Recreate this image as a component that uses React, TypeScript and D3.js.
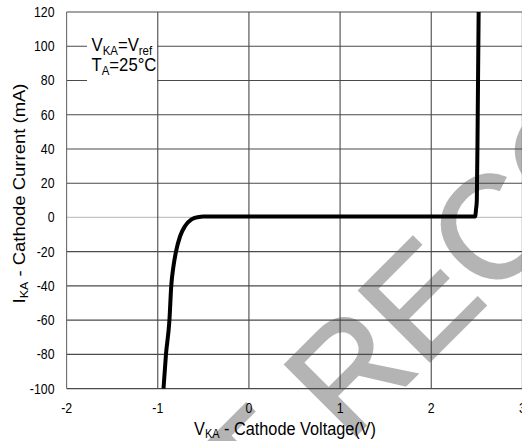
import React from 'react';
import * as d3 from 'd3';

// Curve: cathode voltage (V) vs cathode current (mA)
const vkaValues = [-0.937, -0.91, -0.872, -0.852, -0.826, -0.8, -0.755, -0.7, -0.63, -0.55, -0.5, 2.0, 2.481, 2.492, 2.5, 2.51, 2.52];
const ikaValues = [-100, -80, -60, -40, -28, -20, -11, -5, -1.2, 0.3, 0.5, 0.5, 0.5, 5, 10, 60, 120];

const xTickValues = [-2, -1, 0, 1, 2, 3];
const yTickValues = [-100, -80, -60, -40, -20, 0, 20, 40, 60, 80, 100, 120];

const FONT = "'Liberation Sans', Arial, sans-serif";
const SX = 0.88; // horizontal squeeze of the reference picture's text

export default function App() {
  const W = 522;
  const H = 441;
  const x = d3.scaleLinear().domain([-2, 3]).range([66.6, 522.4]);
  const y = d3.scaleLinear().domain([-100, 120]).range([388.6, 12.0]);

  const pts: [number, number][] = vkaValues.map((v, i) => [v, ikaValues[i]]);
  const line = d3
    .line<[number, number]>()
    .x((d) => x(d[0]))
    .y((d) => y(d[1]))
    .curve(d3.curveMonotoneX);

  const [x0, x1] = x.range();
  const yTop = y(120);
  const yBot = y(-100);

  return (
    <svg
      width={W}
      height={H}
      viewBox={`0 0 ${W} ${H}`}
      style={{ position: 'absolute', left: 0, top: 0, background: '#fff' }}
      fontFamily={FONT}
    >
      <rect x={0} y={0} width={W} height={H} fill="#fff" />

      {/* watermark */}
      <g
        transform="translate(347.4,443.6) rotate(-45)"
        fill="#b4b4b4"
        stroke="#b4b4b4"
        strokeWidth={2.5}
        strokeLinejoin="miter"
        fontSize={145}
        fontFamily={FONT}
      >
        <text x={0} y={0}>RECOMMENDED</text>
        <text x={-40} y={0} textAnchor="end">NOT</text>
      </g>

      {/* horizontal gridlines */}
      {yTickValues.map((t) => (
        <line
          key={'h' + t}
          x1={x0}
          x2={x1}
          y1={y(t)}
          y2={y(t)}
          stroke={t === 0 ? '#c4c4c4' : '#4a4a4a'}
          strokeWidth={t === 0 ? 1.4 : 1.1}
        />
      ))}
      {/* vertical gridlines */}
      {xTickValues.map((t) => (
        <line
          key={'v' + t}
          x1={x(t)}
          x2={x(t)}
          y1={yTop}
          y2={yBot}
          stroke={t === -2 ? '#6a6a6a' : '#4a4a4a'}
          strokeWidth={1.1}
        />
      ))}

      {/* annotation box */}
      <rect x={87} y={25} width={70} height={70} fill="#fff" />
      <g transform={`translate(91.5,50.5) scale(${SX},1)`} fontSize={19} fill="#000">
        <text x={0} y={0}>
          V<tspan fontSize={13} dy={4}>KA</tspan>
          <tspan dy={-4}>=V</tspan>
          <tspan fontSize={13} dy={4}>ref</tspan>
        </text>
      </g>
      <g transform={`translate(91.5,71) scale(${SX},1)`} fontSize={19} fill="#000">
        <text x={0} y={0}>
          T<tspan fontSize={13} dy={4}>A</tspan>
          <tspan dy={-4}>=25°C</tspan>
        </text>
      </g>

      {/* curve */}
      <path d={line(pts) || ''} fill="none" stroke="#000" strokeWidth={4} strokeLinejoin="round" />

      {/* y tick labels */}
      {yTickValues.map((t) => (
        <g key={'yl' + t} transform={`translate(54.5,${y(t) + 5}) scale(${SX},1)`}>
          <text x={0} y={0} textAnchor="end" fontSize={14} fill="#000">
            {t}
          </text>
        </g>
      ))}
      {/* x tick labels */}
      {xTickValues.map((t) => (
        <g key={'xl' + t} transform={`translate(${x(t)},413) scale(${SX},1)`}>
          <text x={0} y={0} textAnchor="middle" fontSize={14} fill="#000">
            {t}
          </text>
        </g>
      ))}

      {/* x axis title */}
      <g transform={`translate(285,435) scale(${SX},1)`} fontSize={18.5} fill="#000">
        <text x={0} y={0} textAnchor="middle">
          V<tspan fontSize={12.5} dy={3}>KA</tspan>
          <tspan dy={-3}> - Cathode Voltage(V)</tspan>
        </text>
      </g>

      {/* y axis title */}
      <g transform={`translate(25,193.5) scale(${SX},1) rotate(-90)`} fontSize={18.5} fill="#000">
        <text x={0} y={0} textAnchor="middle">
          I<tspan fontSize={12.5} dy={3}>KA</tspan>
          <tspan dy={-3}> - Cathode Current (mA)</tspan>
        </text>
      </g>
    </svg>
  );
}
